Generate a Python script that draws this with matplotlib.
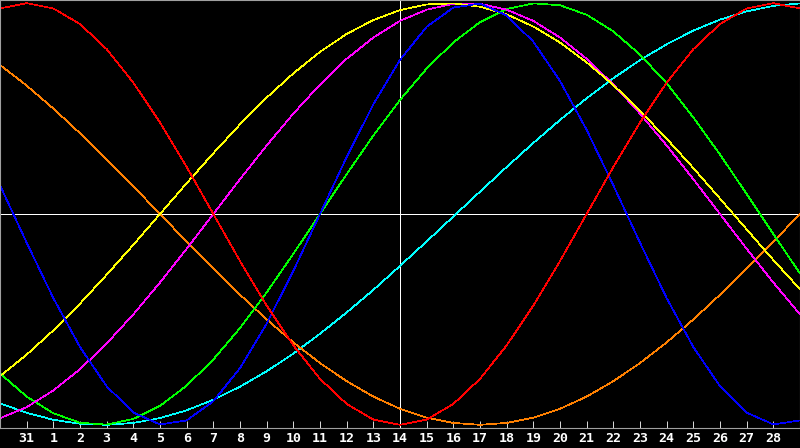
import matplotlib
matplotlib.use("Agg")
import matplotlib.pyplot as plt

# day slots 0..30 across the chart, labelled ticks on slots 1..29
days = list(range(31))
day_labels = ["31"] + [str(d) for d in range(1, 29)]
today = 15

# cycle values in percent at each day
red = [97.5, 100, 97.5, 90.1, 78.2, 62.3, 43.4, 22.3, 0, -22.3, -43.4, -62.3, -78.2, -90.1, -97.5, -100,
       -97.5, -90.1, -78.2, -62.3, -43.4, -22.3, 0, 22.3, 43.4, 62.3, 78.2, 90.1, 97.5, 100, 97.5]
blue = [13.6, -13.6, -39.9, -63.1, -81.7, -94.2, -99.8, -97.9, -88.8, -73.1, -52.0, -27.0, 0, 27.0, 52.0, 73.1,
        88.8, 97.9, 99.8, 94.2, 81.7, 63.1, 39.9, 13.6, -13.6, -39.9, -63.1, -81.7, -94.2, -99.8, -97.9]
green = [-75.6, -86.6, -94.5, -99.0, -99.9, -97.2, -91.0, -81.4, -69.0, -54.1, -37.2, -18.9, 0, 18.9, 37.2, 54.1,
         69.0, 81.4, 91.0, 97.2, 99.9, 99.0, 94.5, 86.6, 75.6, 62.0, 45.8, 28.2, 9.5, -9.5, -28.2]
yellow = [-76.9, -66.7, -55.2, -42.5, -28.8, -14.6, 0, 14.6, 28.8, 42.5, 55.2, 66.7, 76.9, 85.4, 92.0, 96.7,
          99.4, 99.9, 98.3, 94.7, 88.9, 81.3, 71.9, 61.2, 48.9, 35.7, 21.8, 7.3, -7.3, -21.8, -35.7]
magenta = [-96.9, -91.6, -83.7, -73.6, -61.4, -47.6, -32.5, -16.5, 0, 16.5, 32.5, 47.6, 61.4, 73.6, 83.7, 91.6,
           96.9, 99.7, 99.7, 96.9, 91.6, 83.7, 73.6, 61.4, 47.6, 32.5, 16.5, 0, -16.5, -32.5, -47.6]
orange = [70.7, 60.9, 50.0, 38.3, 25.9, 13.1, 0, -13.1, -25.9, -38.3, -50.0, -60.9, -70.7, -79.3, -86.6, -92.4,
          -96.6, -99.1, -100, -99.1, -96.6, -92.4, -86.6, -79.3, -70.7, -60.9, -50.0, -38.3, -25.9, -13.1, 0]
cyan = [-89.8, -94.3, -97.6, -99.5, -100, -99.1, -96.8, -93.1, -88.1, -81.9, -74.6, -66.2, -56.8, -46.7, -36.0, -24.6,
        -13.0, -1.2, 10.6, 22.3, 33.7, 44.6, 54.9, 64.4, 73.0, 80.5, 87.0, 92.2, 96.1, 98.7, 99.9]

fig = plt.figure(figsize=(8, 4.48), dpi=100, facecolor="black")
ax = fig.add_axes([0, 20 / 448, 1, 428 / 448])
ax.set_facecolor("black")

ax.axhline(0, color="white", lw=0.5, antialiased=False)
ax.axvline(today, color="white", lw=0.5, antialiased=False)

series = [(cyan, "#00ffff"), (orange, "#ff8000"), (green, "#00ff00"), (magenta, "#ff00ff"),
          (yellow, "#ffff00"), (blue, "#0000ff"), (red, "#ff0000")]
for vals, col in series:
    ax.plot(days, vals, color=col, lw=0.5, antialiased=False)

ax.set_xlim(0, 30)
ax.set_ylim(-101.5, 101.5)
ax.set_yticks([])
ax.set_xticks(days[1:30])
ax.set_xticklabels(day_labels, color="white", fontsize=9.5, fontweight="bold", family="DejaVu Sans Mono")
ax.tick_params(axis="x", direction="in", length=5, width=0.6, color="white", pad=3)
for s in ax.spines.values():
    s.set_color("#a0a0a0")
    s.set_linewidth(0.8)

fig.savefig("out.png", dpi=100, facecolor="black")
